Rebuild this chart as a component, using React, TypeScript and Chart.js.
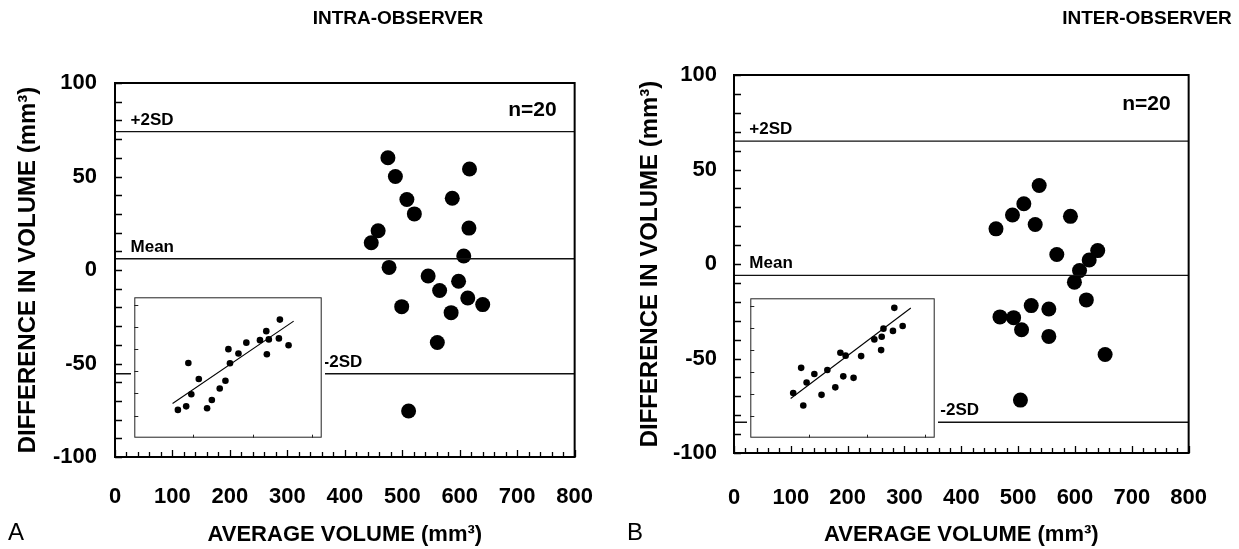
import React, { useEffect, useRef } from 'react';
import { Chart, registerables } from 'chart.js';

Chart.register(...registerables);

const FONT = '"Liberation Sans", Arial, Helvetica, sans-serif';

// ---- Panel A: intra-observer (Bland-Altman) ----
const intraAvg = [446, 458, 475, 488, 477, 508, 521, 499, 511, 545, 565, 561, 585, 587, 598, 607, 616, 617, 614, 640];
const intraDiff = [14.6, 21, 60, 50, 1.4, 37.7, 30, -19.6, -75.4, -3.2, -11, -38.8, -22.8, 38.4, -6, 7.5, 22.4, 54, -15, -18.5];
const intraLimits = [74, 6, -55.5]; // +2SD, Mean, -2SD

// ---- Panel B: inter-observer (Bland-Altman) ----
const interAvg = [461, 468, 490, 492, 510, 506, 504, 530, 523, 537, 554, 554, 568, 592, 599, 608, 620, 625, 640, 653];
const interDiff = [18.6, -28, 25.9, -28.4, 31.9, -34.8, -72, 20.9, -22, 41.5, -23.8, -38.3, 5, 25.2, -9.6, -3.5, -19, 2.1, 7.1, -47.9];
const interLimits = [65, -6, -83.7];

const limitLabels = ['+2SD', 'Mean', '-2SD'];
const limitLabelX = [27, 27, 363];
const sampleLabel = 'n=20';

// ---- axes ----
const xTickValues = [0, 100, 200, 300, 400, 500, 600, 700, 800];
const yTickValues = [-100, -50, 0, 50, 100];
const xRange = [0, 800];
const yRange = [-100, 100];
const xMinorStep = 20;
const yMinorStep = 10;

// ---- insets (correlation scatter + regression line) ----
const intraInsetX = [221, 263, 274, 289, 327, 369, 393, 433, 462, 477, 485, 528, 568, 637, 669, 672, 682, 733, 738, 782];
const intraInsetY = [188, 212, 505, 294, 397, 199, 255, 333, 385, 599, 504, 570, 643, 660, 721, 565, 665, 672, 799, 626];
const intraFitX = [194, 808];
const intraFitY = [231, 789];

const interInsetX = [221, 262, 273, 290, 330, 367, 397, 438, 464, 479, 491, 532, 571, 639, 674, 677, 686, 735, 742, 785];
const interInsetY = [305, 476, 219, 376, 434, 292, 461, 343, 579, 418, 559, 408, 556, 670, 597, 688, 743, 728, 885, 761];
const interFitX = [208, 827];
const interFitY = [267, 884];

const insetRange = [0, 950];
const insetXTicks = [300, 600, 900];
const insetYTicks = [150, 300, 450, 600, 750, 900];

type PanelCfg = {
  title: string;
  letter: string;
  avg: number[];
  diff: number[];
  limits: number[];
  canvasW: number;
  canvasH: number;
  area: { left: number; top: number; right: number; bottom: number };
  xTickPad: number;
  yTickPad: number;
  yTitlePad: number;
  titlePos: [number, number];
  letterPos: [number, number];
  nOffset: number;
};

const panelA: PanelCfg = {
  title: 'INTRA-OBSERVER',
  letter: 'A',
  avg: intraAvg,
  diff: intraDiff,
  limits: intraLimits,
  canvasW: 620,
  canvasH: 549,
  area: { left: 115, top: 83, right: 596, bottom: 457 },
  xTickPad: 27,
  yTickPad: 18,
  yTitlePad: 14,
  titlePos: [398, 19],
  letterPos: [16, 533],
  nOffset: 27,
};

const panelB: PanelCfg = {
  title: 'INTER-OBSERVER',
  letter: 'B',
  avg: interAvg,
  diff: interDiff,
  limits: interLimits,
  canvasW: 619,
  canvasH: 549,
  area: { left: 114, top: 75, right: 594, bottom: 453 },
  xTickPad: 32,
  yTickPad: 17,
  yTitlePad: 16,
  titlePos: [527, 19],
  letterPos: [15, 533],
  nOffset: 29,
};

function range(a: number, b: number, step: number) {
  const out: number[] = [];
  for (let v = a; v <= b + 1e-9; v += step) out.push(v);
  return out;
}

function makeMain(canvas: HTMLCanvasElement, p: PanelCfg) {
  const framePlugin = {
    id: 'frame' + p.letter,
    afterDatasetsDraw(chart: any) {
      const { ctx, chartArea: a, scales } = chart;
      const xs = scales.x;
      const ys = scales.y;
      ctx.save();
      ctx.strokeStyle = '#000';
      ctx.lineWidth = 2;
      ctx.strokeRect(a.left, a.top, a.right - a.left, a.bottom - a.top);
      ctx.lineWidth = 1.3;
      ctx.beginPath();
      for (const v of range(xRange[0], xRange[1], xMinorStep)) {
        const px = Math.round(xs.getPixelForValue(v)) + 0.5;
        const len = v % 100 === 0 ? 7 : 5;
        ctx.moveTo(px, a.bottom);
        ctx.lineTo(px, a.bottom - len);
      }
      for (const v of range(yRange[0], yRange[1], yMinorStep)) {
        const py = Math.round(ys.getPixelForValue(v)) + 0.5;
        ctx.moveTo(a.left, py);
        ctx.lineTo(a.left + 7, py);
      }
      ctx.stroke();
      // limit labels
      ctx.fillStyle = '#000';
      ctx.font = 'bold 17px ' + FONT;
      ctx.textAlign = 'left';
      ctx.textBaseline = 'alphabetic';
      p.limits.forEach((lv, i) => {
        const px = xs.getPixelForValue(limitLabelX[i]);
        const py = ys.getPixelForValue(lv);
        ctx.fillText(limitLabels[i], px, py - 7);
      });
      ctx.font = 'bold 21px ' + FONT;
      ctx.textAlign = 'right';
      ctx.textBaseline = 'middle';
      ctx.fillText(sampleLabel, a.right - 18, a.top + p.nOffset);
      // panel title and letter
      ctx.font = 'bold 19px ' + FONT;
      ctx.textAlign = 'center';
      ctx.fillText(p.title, p.titlePos[0], p.titlePos[1]);
      ctx.font = '24px ' + FONT;
      ctx.fillText(p.letter, p.letterPos[0], p.letterPos[1]);
      ctx.restore();
    },
  };

  const limitSets = p.limits.map((lv) => ({
    type: 'line' as const,
    data: [
      { x: xRange[0], y: lv },
      { x: xRange[1], y: lv },
    ],
    borderColor: '#111',
    borderWidth: 1.4,
    pointRadius: 0,
    fill: false,
  }));

  return new Chart(canvas, {
    type: 'scatter',
    data: {
      datasets: [
        ...limitSets,
        {
          type: 'scatter' as const,
          data: p.avg.map((x, i) => ({ x, y: p.diff[i] })),
          pointRadius: 7.5,
          pointHoverRadius: 7.5,
          backgroundColor: '#000',
          borderColor: '#000',
          borderWidth: 0,
        },
      ],
    } as any,
    options: {
      responsive: false,
      animation: false,
      events: [],
      layout: {
        padding: {
          left: 0,
          top: p.area.top,
          right: p.canvasW - p.area.right,
          bottom: 0,
        },
      },
      plugins: { legend: { display: false }, tooltip: { enabled: false } },
      scales: {
        x: {
          type: 'linear',
          min: xRange[0],
          max: xRange[1],
          afterBuildTicks: (s: any) => {
            s.ticks = xTickValues.map((v) => ({ value: v }));
          },
          afterFit: (s: any) => {
            s.height = p.canvasH - p.area.bottom;
          },
          grid: { display: false, drawTicks: false },
          border: { display: false },
          ticks: {
            padding: p.xTickPad,
            color: '#000',
            maxRotation: 0,
            autoSkip: false,
            font: { family: FONT, size: 22, weight: 'bold' },
          },
          title: {
            display: true,
            text: 'AVERAGE VOLUME (mm³)',
            color: '#000',
            padding: { top: 0, bottom: 1 },
            font: { family: FONT, size: 22, weight: 'bold' },
          },
        },
        y: {
          type: 'linear',
          min: yRange[0],
          max: yRange[1],
          afterBuildTicks: (s: any) => {
            s.ticks = yTickValues.map((v) => ({ value: v }));
          },
          afterFit: (s: any) => {
            s.width = p.area.left;
          },
          grid: { display: false, drawTicks: false },
          border: { display: false },
          ticks: {
            padding: p.yTickPad,
            color: '#000',
            autoSkip: false,
            font: { family: FONT, size: 22, weight: 'bold' },
          },
          title: {
            display: true,
            text: 'DIFFERENCE IN VOLUME (mm³)',
            color: '#000',
            padding: { top: p.yTitlePad, bottom: 0 },
            font: { family: FONT, size: 24, weight: 'bold' },
          },
        },
      },
    } as any,
    plugins: [framePlugin],
  });
}

function makeInset(canvas: HTMLCanvasElement, xs: number[], ys: number[], fx: number[], fy: number[]) {
  const insetPlugin = {
    id: 'insetFrame',
    afterDatasetsDraw(chart: any) {
      const { ctx, chartArea: a, scales } = chart;
      ctx.save();
      ctx.strokeStyle = '#222';
      ctx.lineWidth = 1;
      ctx.strokeRect(a.left + 0.5, a.top + 0.5, a.right - a.left - 1, a.bottom - a.top - 1);
      ctx.beginPath();
      for (const v of insetYTicks) {
        const py = Math.round(scales.y.getPixelForValue(v)) + 0.5;
        ctx.moveTo(a.left, py);
        ctx.lineTo(a.left + 4, py);
      }
      for (const v of insetXTicks) {
        const px = Math.round(scales.x.getPixelForValue(v)) + 0.5;
        ctx.moveTo(px, a.bottom);
        ctx.lineTo(px, a.bottom - 3);
      }
      ctx.stroke();
      ctx.restore();
    },
  };
  return new Chart(canvas, {
    type: 'scatter',
    data: {
      datasets: [
        {
          type: 'line' as const,
          data: fx.map((x, i) => ({ x, y: fy[i] })),
          borderColor: '#000',
          borderWidth: 1.1,
          pointRadius: 0,
          fill: false,
        },
        {
          type: 'scatter' as const,
          data: xs.map((x, i) => ({ x, y: ys[i] })),
          pointRadius: 3.3,
          pointHoverRadius: 3.3,
          backgroundColor: '#000',
          borderWidth: 0,
        },
      ],
    } as any,
    options: {
      responsive: false,
      animation: false,
      events: [],
      layout: { padding: { left: 1, top: 1, bottom: 1, right: 3 } },
      plugins: { legend: { display: false }, tooltip: { enabled: false } },
      scales: {
        x: { type: 'linear', display: false, min: insetRange[0], max: insetRange[1] },
        y: { type: 'linear', display: false, min: insetRange[0], max: insetRange[1] },
      },
    } as any,
    plugins: [insetPlugin],
  });
}

export default function App() {
  const aRef = useRef<HTMLCanvasElement>(null);
  const bRef = useRef<HTMLCanvasElement>(null);
  const aiRef = useRef<HTMLCanvasElement>(null);
  const biRef = useRef<HTMLCanvasElement>(null);

  useEffect(() => {
    const charts: Chart[] = [];
    if (aRef.current) charts.push(makeMain(aRef.current, panelA));
    if (bRef.current) charts.push(makeMain(bRef.current, panelB));
    if (aiRef.current) charts.push(makeInset(aiRef.current, intraInsetX, intraInsetY, intraFitX, intraFitY));
    if (biRef.current) charts.push(makeInset(biRef.current, interInsetX, interInsetY, interFitX, interFitY));
    return () => charts.forEach((c) => c.destroy());
  }, []);

  return (
    <div style={{ position: 'fixed', left: 0, top: 0, width: 1239, height: 549, background: '#fff', overflow: 'hidden' }}>
      <canvas ref={aRef} width={620} height={549} style={{ position: 'absolute', left: 0, top: 0, width: 620, height: 549 }} />
      <canvas ref={bRef} width={619} height={549} style={{ position: 'absolute', left: 620, top: 0, width: 619, height: 549 }} />
      <canvas ref={aiRef} width={194} height={147} style={{ position: 'absolute', left: 131, top: 294, width: 194, height: 147, background: '#fff' }} />
      <canvas ref={biRef} width={191} height={146} style={{ position: 'absolute', left: 747, top: 295, width: 191, height: 146, background: '#fff' }} />
    </div>
  );
}
